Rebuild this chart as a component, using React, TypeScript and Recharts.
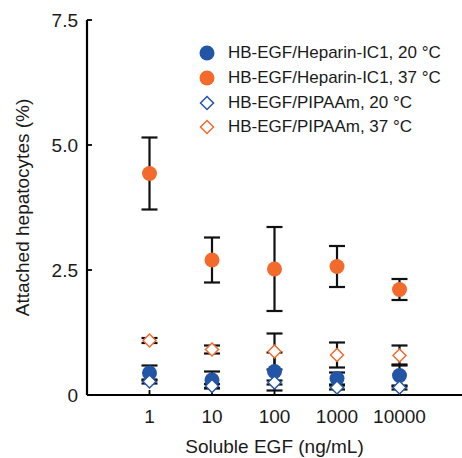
import React from 'react'
import { ScatterChart, Scatter, XAxis, YAxis, ErrorBar } from 'recharts'

const doses = ['1', '10', '100', '1000', '10000']
const yTicks = [0, 2.5, 5, 7.5]

const hepIC1_20 = [0.44, 0.3, 0.47, 0.33, 0.39]
const hepIC1_20Err = [0.15, 0.17, 0.38, 0.12, 0.22]
const hepIC1_37 = [4.43, 2.7, 2.52, 2.57, 2.11]
const hepIC1_37Err = [0.72, 0.45, 0.84, 0.41, 0.21]
const pipaam20 = [0.27, 0.18, 0.25, 0.15, 0.15]
const pipaam20Err = [0.04, 0.04, 0.04, 0.04, 0.04]
const pipaam37 = [1.09, 0.91, 0.87, 0.8, 0.79]
const pipaam37Err = [0.05, 0.08, 0.36, 0.25, 0.2]

const BLUE = '#2355a6'
const ORANGE = '#f26a2c'
const FONT = 'Liberation Sans, Arial, sans-serif'

const toPoints = (vals: number[], errs: number[]) =>
  vals.map((v, i) => ({ x: i + 1, y: v, err: errs[i] }))

const series = [
  { name: 'HB-EGF/Heparin-IC1, 37 °C', data: toPoints(hepIC1_37, hepIC1_37Err), color: ORANGE, filled: true },
  { name: 'HB-EGF/Heparin-IC1, 20 °C', data: toPoints(hepIC1_20, hepIC1_20Err), color: BLUE, filled: true },
  { name: 'HB-EGF/PIPAAm, 37 °C', data: toPoints(pipaam37, pipaam37Err), color: ORANGE, filled: false },
  { name: 'HB-EGF/PIPAAm, 20 °C', data: toPoints(pipaam20, pipaam20Err), color: BLUE, filled: false },
]

const legendOrder = [
  'HB-EGF/Heparin-IC1, 20 °C',
  'HB-EGF/Heparin-IC1, 37 °C',
  'HB-EGF/PIPAAm, 20 °C',
  'HB-EGF/PIPAAm, 37 °C',
]

function Marker({ cx, cy, color, filled }: any) {
  if (filled) return <circle cx={cx} cy={cy} r={7.5} fill={color} />
  const d = 6.5
  return (
    <polygon
      points={`${cx},${cy - d} ${cx + d},${cy} ${cx},${cy + d} ${cx - d},${cy}`}
      fill="#fff"
      stroke={color}
      strokeWidth={1.5}
    />
  )
}

function LegendBox() {
  return (
    <div
      style={{
        position: 'absolute',
        left: 197,
        top: 41,
        fontFamily: FONT,
        fontSize: 17,
        color: '#1a1a1a',
        whiteSpace: 'nowrap',
      }}
    >
      {legendOrder.map((name) => {
        const s = series.find((x) => x.name === name)!
        return (
          <div key={name} style={{ display: 'flex', alignItems: 'center', height: 24.7 }}>
            <svg width={20} height={20} style={{ marginRight: 11 }}>
              <Marker cx={10} cy={10} color={s.color} filled={s.filled} />
            </svg>
            <span>{name}</span>
          </div>
        )
      })}
    </div>
  )
}

const tickStyle = { fill: '#1a1a1a', fontSize: 19, fontFamily: FONT }

export default function App() {
  return (
    <div style={{ position: 'absolute', left: 0, top: 0, width: 462, height: 458, background: '#fff' }}>
      <ScatterChart width={462} height={458} margin={{ top: 20, right: 0, bottom: 0, left: 0 }}>
        <XAxis
          type="number"
          dataKey="x"
          domain={[0, 6]}
          ticks={[1, 2, 3, 4, 5]}
          tickFormatter={(v) => doses[v - 1]}
          height={63}
          stroke="#000"
          axisLine={{ stroke: '#000', strokeWidth: 2.2 }}
          tickLine={{ stroke: '#000', strokeWidth: 1.8 }}
          tickSize={-5}
          tickMargin={20}
          tick={tickStyle}
          label={{ value: 'Soluble EGF (ng/mL)', position: 'insideBottom', offset: 5, style: tickStyle }}
        />
        <YAxis
          type="number"
          dataKey="y"
          domain={[0, 7.5]}
          ticks={yTicks}
          tickFormatter={(v) => (v === 0 ? '0' : v.toFixed(1))}
          width={87}
          stroke="#000"
          axisLine={{ stroke: '#000', strokeWidth: 2.2 }}
          tickLine={{ stroke: '#000', strokeWidth: 1.8 }}
          tickSize={-5}
          tickMargin={14}
          tick={tickStyle}
          label={{ value: 'Attached hepatocytes (%)', angle: -90, position: 'insideLeft', offset: 22, style: { ...tickStyle, textAnchor: 'middle' } }}
        />
        {series.map((s) => (
          <Scatter
            key={s.name}
            name={s.name}
            data={s.data}
            isAnimationActive={false}
            shape={(p: any) => <Marker cx={p.cx} cy={p.cy} color={s.color} filled={s.filled} />}
          >
            <ErrorBar dataKey="err" direction="y" width={8} strokeWidth={2.2} stroke="#111" />
          </Scatter>
        ))}
      </ScatterChart>
      <LegendBox />
    </div>
  )
}
